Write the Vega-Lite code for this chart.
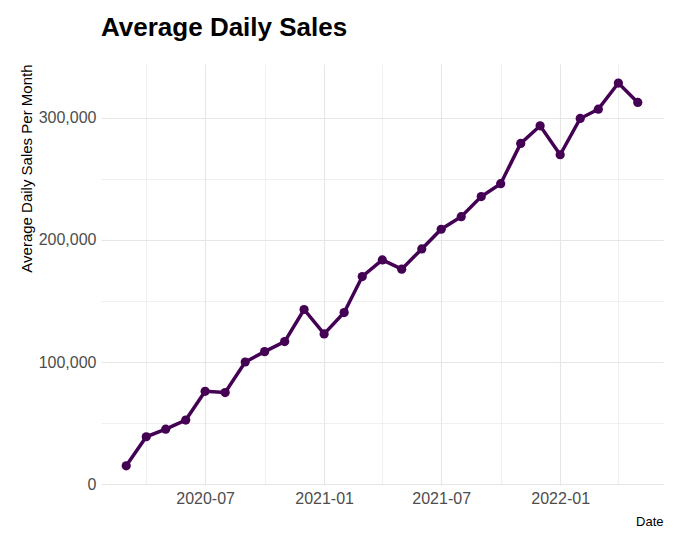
{
  "$schema": "https://vega.github.io/schema/vega-lite/v6.json",
  "width": 562,
  "height": 421,
  "autosize": {"type": "none"},
  "padding": {"left": 101, "top": 64, "right": 15, "bottom": 58},
  "background": "white",
  "title": {"text": "Average Daily Sales", "anchor": "start", "frame": "group", "fontSize": 26, "fontWeight": "bold", "font": "Liberation Sans", "color": "black", "offset": 23},
  "config": {
    "view": {"stroke": null},
    "font": "Liberation Sans",
    "axis": {"domain": false, "ticks": false, "labelFont": "Liberation Sans", "titleFont": "Liberation Sans", "labelColor": "#4d4d4d", "titleColor": "black", "titleFontWeight": "normal", "labelFontSize": 16, "titleFontSize": 13}
  },
  "data": {
    "values": [
      {"Date": "2020-03-01T00:00:00", "Sales": 15000},
      {"Date": "2020-04-01T00:00:00", "Sales": 38800},
      {"Date": "2020-05-01T00:00:00", "Sales": 45000},
      {"Date": "2020-06-01T00:00:00", "Sales": 52500},
      {"Date": "2020-07-01T00:00:00", "Sales": 76000},
      {"Date": "2020-08-01T00:00:00", "Sales": 75000},
      {"Date": "2020-09-01T00:00:00", "Sales": 100000},
      {"Date": "2020-10-01T00:00:00", "Sales": 108500},
      {"Date": "2020-11-01T00:00:00", "Sales": 116700},
      {"Date": "2020-12-01T00:00:00", "Sales": 143000},
      {"Date": "2021-01-01T00:00:00", "Sales": 123000},
      {"Date": "2021-02-01T00:00:00", "Sales": 140500},
      {"Date": "2021-03-01T00:00:00", "Sales": 170000},
      {"Date": "2021-04-01T00:00:00", "Sales": 183600},
      {"Date": "2021-05-01T00:00:00", "Sales": 176000},
      {"Date": "2021-06-01T00:00:00", "Sales": 192600},
      {"Date": "2021-07-01T00:00:00", "Sales": 208700},
      {"Date": "2021-08-01T00:00:00", "Sales": 219000},
      {"Date": "2021-09-01T00:00:00", "Sales": 235500},
      {"Date": "2021-10-01T00:00:00", "Sales": 246000},
      {"Date": "2021-11-01T00:00:00", "Sales": 279000},
      {"Date": "2021-12-01T00:00:00", "Sales": 293400},
      {"Date": "2022-01-01T00:00:00", "Sales": 269700},
      {"Date": "2022-02-01T00:00:00", "Sales": 299400},
      {"Date": "2022-03-01T00:00:00", "Sales": 307000},
      {"Date": "2022-04-01T00:00:00", "Sales": 328400},
      {"Date": "2022-05-01T00:00:00", "Sales": 312500}
    ]
  },
  "encoding": {
    "x": {
      "field": "Date", "type": "temporal", "title": "Date",
      "scale": {"domain": [{"year": 2020, "month": 1, "date": 22}, {"year": 2022, "month": 6, "date": 9}], "nice": false},
      "axis": {
        "values": [
          {"year": 2020, "month": 4, "date": 1}, {"year": 2020, "month": 7, "date": 1}, {"year": 2020, "month": 10, "date": 1},
          {"year": 2021, "month": 1, "date": 1}, {"year": 2021, "month": 4, "date": 1}, {"year": 2021, "month": 7, "date": 1},
          {"year": 2021, "month": 10, "date": 1}, {"year": 2022, "month": 1, "date": 1}, {"year": 2022, "month": 4, "date": 1}
        ],
        "labelExpr": "(month(datum.value) == 0 || month(datum.value) == 6) ? timeFormat(datum.value, '%Y-%m') : ''",
        "labelPadding": 5,
        "labelFlush": false,
        "labelOverlap": false,
        "titleAnchor": "end",
        "titlePadding": 9,
        "gridColor": "#e6e6e6",
        "gridWidth": {"condition": {"test": "month(datum.value) == 0 || month(datum.value) == 6", "value": 1.1}, "value": 0.6}
      }
    },
    "y": {
      "field": "Sales", "type": "quantitative", "title": "Average Daily Sales Per Month",
      "scale": {"domain": [-700, 344000], "nice": false, "zero": false},
      "axis": {
        "values": [0, 50000, 100000, 150000, 200000, 250000, 300000],
        "labelExpr": "datum.value % 100000 == 0 ? format(datum.value, ',') : ''",
        "labelPadding": 5,
        "labelOverlap": false,
        "labelFlush": false,
        "titleAnchor": "end",
        "titlePadding": 4,
        "titleFontSize": 15,
        "gridColor": "#e6e6e6",
        "gridWidth": {"condition": {"test": "datum.value % 100000 == 0", "value": 1.1}, "value": 0.6}
      }
    }
  },
  "layer": [
    {"mark": {"type": "line", "color": "#440154", "strokeWidth": 3.5}},
    {"mark": {"type": "point", "filled": true, "color": "#440154", "size": 85, "opacity": 1}}
  ]
}
